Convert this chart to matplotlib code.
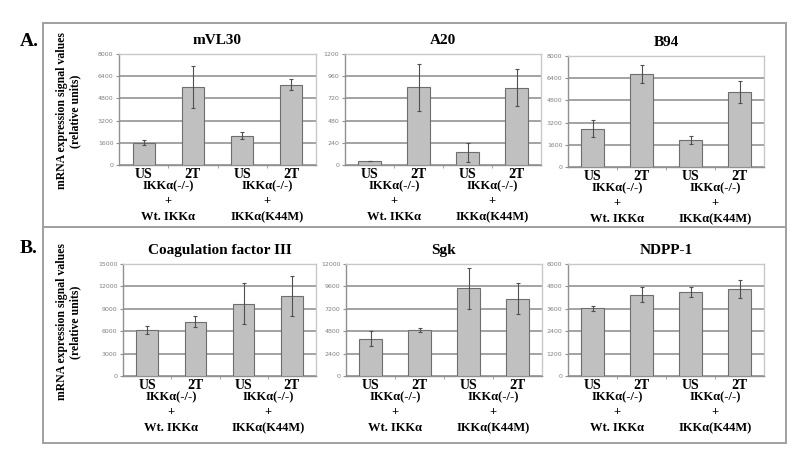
"""
IKKalpha expression panels (A: mVL30, A20, B94; B: Coagulation factor III, Sgk, NDPP-1).
"""
import numpy as np
import matplotlib
matplotlib.use("Agg")
import matplotlib.pyplot as plt
from matplotlib.patches import Rectangle

# ── data ──────────────────────────────────────────────────────────────────────
conditions = ["US", "2T", "US", "2T"]
group_top  = ["IKK\u03b1(-/-)", "IKK\u03b1(-/-)"]
group_bot  = ["Wt. IKK\u03b1", "IKK\u03b1(K44M)"]

mvl30_val = [1600, 5600, 2120, 5800]
mvl30_err = [180, 1500, 230, 400]
a20_val   = [43, 838, 136, 836]
a20_err   = [0, 250, 100, 200]
b94_val   = [2750, 6700, 1950, 5400]
b94_err   = [620, 650, 320, 820]

coag_val  = [6150, 7270, 9700, 10750]
coag_err  = [520, 700, 2800, 2700]
sgk_val   = [4000, 4920, 9400, 8270]
sgk_err   = [800, 200, 2200, 1650]
ndpp_val  = [3630, 4360, 4520, 4660]
ndpp_err  = [140, 420, 270, 480]

panels = [
    # title, values, errors, ymax, tick step, left px, right px, top px, bottom px
    ("mVL30", mvl30_val, mvl30_err, 8000, 1600, 119, 316, 54, 165),
    ("A20", a20_val, a20_err, 1200, 240, 345, 541, 54, 165),
    ("B94", b94_val, b94_err, 8000, 1600, 568, 764, 56, 167),
    ("Coagulation factor III", coag_val, coag_err, 15000, 3000, 123, 316, 264, 376),
    ("Sgk", sgk_val, sgk_err, 12000, 2400, 346, 542, 264, 376),
    ("NDPP-1", ndpp_val, ndpp_err, 6000, 1200, 568, 764, 264, 376),
]

W, H = 800, 458
SERIF = ["Liberation Serif", "DejaVu Serif"]
plt.rcParams["font.family"] = SERIF

fig = plt.figure(figsize=(W / 100, H / 100), dpi=100)
fig.patch.set_facecolor("white")

# panel frames
for top, bot in [(23, 227), (227, 443)]:
    fig.patches.append(Rectangle((43 / W, 1 - bot / H), (786 - 43) / W, (bot - top) / H,
                                 transform=fig.transFigure, fill=False,
                                 edgecolor="#a0a0a0", linewidth=1.4))

fig.text(20 / W, 1 - 41 / H, "A.", fontsize=14, fontweight="bold", va="center")
fig.text(20 / W, 1 - 248 / H, "B.", fontsize=14, fontweight="bold", va="center")

for yc in [111, 322]:
    fig.text(62 / W, 1 - yc / H, "mRNA expression signal values", rotation=90,
             fontsize=8.5, fontweight="bold", ha="center", va="center")
    fig.text(75 / W, 1 - yc / H, "(relative units)", rotation=90,
             fontsize=8.5, fontweight="bold", ha="center", va="center")

x = np.arange(len(conditions))
for title, vals, errs, ymax, step, left, right, top, bot in panels:
    ax = fig.add_axes([left / W, 1 - bot / H, (right - left) / W, (bot - top) / H])
    ax.set_facecolor("white")
    ax.bar(x, vals, 0.45, color="#c0c0c0", edgecolor="#6e6e6e", linewidth=0.8, zorder=3)
    ax.errorbar(x, vals, yerr=errs, fmt="none", ecolor="#505050", elinewidth=0.8,
                capsize=1.5, capthick=0.8, zorder=4)
    ax.set_xlim(-0.5, 3.5)
    ax.set_ylim(0, ymax)
    ticks = np.arange(0, ymax + step, step)
    ax.set_yticks(ticks)
    ax.set_yticklabels([str(int(t)) for t in ticks], fontsize=4.5, color="#808080",
                       family=["DejaVu Sans"])
    ax.yaxis.grid(True, color="#8a8a8a", linewidth=1.1, zorder=0)
    ax.tick_params(axis="y", length=2, color="#909090", pad=2)
    ax.set_xticks([0.5, 1.5, 2.5], minor=True)
    ax.tick_params(axis="x", which="minor", length=2, color="#909090")
    ax.set_xticks(x)
    ax.set_xticklabels(conditions, fontsize=10, fontweight="bold")
    ax.tick_params(axis="x", which="major", length=0, pad=2)
    for side in ["top", "right"]:
        ax.spines[side].set_color("#c8c8c8")
        ax.spines[side].set_linewidth(1.0)
    for side in ["left", "bottom"]:
        ax.spines[side].set_color("#909090")
        ax.spines[side].set_linewidth(1.0)
    ax.set_title(title, fontsize=11, fontweight="bold", pad=7)
    for g, (gt, gb) in enumerate(zip(group_top, group_bot)):
        cx = 2 * g + 0.5
        for txt, off in [(gt, 21), ("+", 36), (gb, 52)]:
            ax.annotate(txt, xy=(cx, 0), xycoords=("data", "axes fraction"),
                        xytext=(0, -off * 0.72), textcoords="offset points",
                        ha="center", va="center", fontsize=9, fontweight="bold",
                        annotation_clip=False)

fig.savefig("out.png", dpi=100)
